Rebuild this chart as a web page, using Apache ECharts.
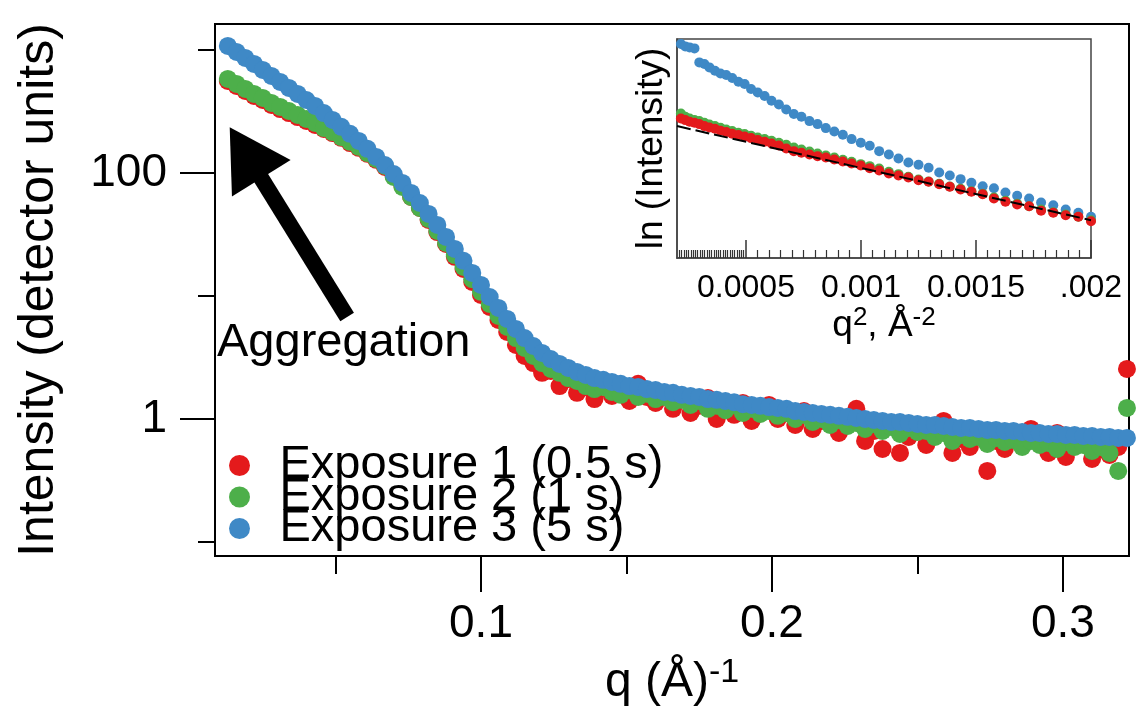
<!DOCTYPE html>
<html>
<head>
<meta charset="utf-8">
<script src="https://cdn.jsdelivr.net/npm/echarts@6.0.0/dist/echarts.min.js"></script>
<style>
html,body{margin:0;padding:0;background:#fff;}
#c{width:1136px;height:720px;}
</style>
</head>
<body>
<div id="c"></div>
<script>
// ---------- main chart data: q (1/Å) and intensity (detector units) ----------
const qValues = [
0.013,0.016,0.019,0.022,0.025,0.028,0.031,0.034,0.037,0.040,
0.043,0.046,0.049,0.052,0.055,0.058,0.061,0.064,0.067,0.070,
0.073,0.076,0.079,0.082,0.085,0.088,0.091,0.094,0.097,0.100,
0.103,0.106,0.109,0.112,0.115,0.118,0.121,0.124,0.127,0.130,
0.133,0.136,0.139,0.142,0.145,0.148,0.151,0.154,0.157,0.160,
0.163,0.166,0.169,0.172,0.175,0.178,0.181,0.184,0.187,0.190,
0.193,0.196,0.199,0.202,0.205,0.208,0.211,0.214,0.217,0.220,
0.223,0.226,0.229,0.232,0.235,0.238,0.241,0.244,0.247,0.250,
0.253,0.256,0.259,0.262,0.265,0.268,0.271,0.274,0.277,0.280,
0.283,0.286,0.289,0.292,0.295,0.298,0.301,0.304,0.307,0.310,
0.313,0.316,0.319,0.322];

const exposure1 = [ // red, 0.5 s
560,510,464,423,392,357,331,307,285,265,
246,228,211,193,175,160,143,128,112,
94.5,78.4,63.8,51.9,41.5,33.1,26.5,20.8,16.6,13.0,
10.2,8.14,6.38,5.10,4.00,3.25,2.85,2.37,2.46,1.85,
2.11,1.63,1.82,1.45,1.89,1.54,1.69,1.40,1.93,1.51,
1.35,1.57,1.21,1.45,1.12,1.28,1.48,1.00,1.21,1.08,
1.35,0.963,1.16,1.30,1.00,1.12,0.894,1.16,0.829,0.963,
1.06,0.770,0.963,1.21,0.663,0.799,0.570,0.928,0.529,0.714,
0.829,0.615,0.770,0.963,0.529,0.688,0.592,0.770,0.378,0.663,
0.570,0.714,0.603,0.829,0.663,0.529,0.770,0.491,0.615,0.688,
0.473,0.570,0.510,0.592,2.55];

const exposure2 = [ // green, 1 s
581,529,482,439,407,371,344,319,296,275,
255,232,215,196,179,163,145,130,114,
92.8,76.9,63.8,51.9,42.3,33.8,27.0,21.5,17.2,13.7,
10.8,8.61,6.88,5.60,4.55,3.78,3.25,2.85,2.55,2.37,
2.15,2.04,1.85,1.75,1.82,1.66,1.57,1.72,1.51,1.60,
1.45,1.51,1.37,1.43,1.30,1.40,1.21,1.28,1.18,1.30,
1.12,1.21,1.10,1.16,1.06,1.12,1.00,1.08,0.945,1.00,
0.894,0.981,0.877,0.928,0.829,0.911,0.799,0.861,0.755,0.845,
0.784,0.799,0.714,0.770,0.663,0.741,0.688,0.714,0.626,0.701,
0.650,0.675,0.592,0.663,0.615,0.638,0.570,0.650,0.592,0.615,
0.549,0.592,0.529,0.378,1.23];

const exposure3 = [ // blue, 5 s
1078,963,861,770,688,615,550,491,439,392,
351,307,270,237,208,182,157,135,116,98.1,
82.9,68.8,57.0,46.4,37.8,30.2,24.1,19.3,15.4,12.3,
9.81,7.99,6.50,5.39,4.55,3.92,3.44,3.07,2.80,2.60,
2.41,2.28,2.15,2.08,2.00,1.93,1.85,1.82,1.75,1.72,
1.66,1.63,1.57,1.54,1.51,1.45,1.43,1.40,1.37,1.32,
1.30,1.28,1.25,1.23,1.21,1.16,1.14,1.12,1.10,1.08,
1.06,1.04,1.02,1.00,0.981,0.963,0.945,0.945,0.928,0.911,
0.894,0.894,0.877,0.861,0.845,0.845,0.829,0.814,0.814,0.799,
0.799,0.784,0.770,0.770,0.755,0.755,0.741,0.741,0.727,0.727,
0.714,0.714,0.701,0.701];

const seriesNames = ['Exposure 1 (0.5 s)', 'Exposure 2 (1 s)', 'Exposure 3 (5 s)'];
const seriesColors = ['#e41a1c', '#4daf4a', '#3f89c6'];

// main axes ticks
const xMajorTicks = [0.1, 0.2, 0.3];
const xTickLabels = ['0.1', '0.2', '0.3'];
const xMinorTicks = [0.05, 0.15, 0.25];
const yMajorTicks = [1, 100];
const yTickLabels = ['1', '100'];
const yMinorTicks = [0.1, 10, 1000];

// ---------- inset data: q^2 (1/Å^2) and ln(Intensity) ----------
const insetQ2 = [
0.000199,0.000217,0.000236,0.000255,0.000276,0.000297,0.000319,0.000341,0.000365,0.000389,
0.000414,0.000440,0.000467,0.000494,0.000522,0.000551,0.000581,0.000611,0.000643,0.000675,
0.000708,0.000741,0.000776,0.000811,0.000847,0.000884,0.000921,0.000959,0.000999,0.001038,
0.001079,0.001121,0.001163,0.001206,0.001250,0.001294,0.001340,0.001386,0.001433,0.001480,
0.001529,0.001578,0.001628,0.001679,0.001731,0.001783,0.001836,0.001890,0.001945,0.002000];

const insetLnExp1 = [
6.414,6.395,6.382,6.369,6.361,6.350,6.334,6.323,6.313,6.297,
6.286,6.273,6.262,6.251,6.238,6.222,6.209,6.195,6.179,6.155,
6.134,6.121,6.107,6.094,6.083,6.067,6.051,6.035,6.019,5.998,
5.979,5.955,5.939,5.923,5.902,5.889,5.870,5.849,5.827,5.809,
5.790,5.755,5.729,5.707,5.694,5.657,5.641,5.622,5.609,5.574];

const insetLnExp2 = [
6.475,6.435,6.409,6.395,6.382,6.374,6.361,6.347,6.334,6.321,
6.307,6.294,6.281,6.270,6.257,6.243,6.230,6.217,6.201,6.185,
6.163,6.147,6.131,6.115,6.099,6.083,6.065,6.049,6.030,6.014,
5.995,5.969,5.950,5.929,5.907,5.891,5.873,5.851,5.833,5.814,
5.793,5.763,5.737,5.713,5.694,5.667,5.646,5.627,5.609,5.582];

const insetLnExp3 = [
7.009,6.990,6.971,6.963,6.955,6.843,6.830,6.803,6.777,6.755,
6.742,6.718,6.689,6.670,6.630,6.603,6.574,6.537,6.507,6.467,
6.430,6.409,6.374,6.350,6.318,6.291,6.265,6.230,6.201,6.177,
6.134,6.107,6.075,6.043,6.025,6.001,5.963,5.939,5.910,5.881,
5.854,5.838,5.803,5.777,5.755,5.723,5.702,5.667,5.641,5.609];

const guinierFitQ2 = [0.0002, 0.002];
const guinierFitLn = [6.334, 5.582];

const insetMajorTicks = [0.0005, 0.001, 0.0015, 0.002];
const insetTickLabels = ['0.0005', '0.001', '0.0015', '.002'];

// annotation arrow (data coordinates: tail -> head centre)
const arrowTail = [0.0540, 6.75];
const arrowHead = [0.01907, 146.1];
const annotationText = 'Aggregation';

// ---------- build ----------
const FONT = '"Liberation Sans", Arial, Helvetica, sans-serif';
const zip = (xs, ys) => xs.map((x, i) => [x, ys[i]]);
const insetMinorTicks = [];
for (let k = 21; k < 50; k++) insetMinorTicks.push(k / 100000);
for (let k = 11; k < 40; k++) if (k % 10 !== 0) insetMinorTicks.push(k * 5 / 100000);

const labelFrom = (ticks, labels) => (v) => {
  for (let i = 0; i < ticks.length; i++) if (Math.abs(ticks[i] - v) < 1e-9 * Math.max(1, Math.abs(v))) return labels[i];
  return '';
};

const X_MIN = 0.00859, X_MAX = 0.3227;
const Y_MIN = 0.0769, Y_MAX = 1626;

const chart = echarts.init(document.getElementById('c'), null, { renderer: 'canvas' });
const option = {
  animation: false,
  backgroundColor: '#fff',
  textStyle: { fontFamily: FONT, color: '#000' },
  grid: [
    { left: 215, top: 24, right: 7, bottom: 164, show: true, borderColor: '#000', borderWidth: 2, backgroundColor: 'transparent' },
    { left: 677, top: 39, right: 45, bottom: 462, show: true, borderColor: '#444', borderWidth: 1.5, backgroundColor: '#fff' }
  ],
  legend: {
    orient: 'vertical', left: 224, top: 437, itemWidth: 70, itemHeight: 21, itemGap: -15.5,
    icon: 'circle', selectedMode: false, data: seriesNames,
    textStyle: { fontSize: 47, color: '#000', fontFamily: FONT }
  },
  xAxis: [
    {
      gridIndex: 0, type: 'value', min: X_MIN, max: X_MAX, position: 'bottom',
      axisLine: { show: true, onZero: false, lineStyle: { color: '#000', width: 2 } },
      axisTick: { show: true, length: 36, customValues: xMajorTicks, lineStyle: { color: '#000', width: 2 } },
      axisLabel: { customValues: xMajorTicks, formatter: labelFrom(xMajorTicks, xTickLabels), fontSize: 46, color: '#000', margin: 45, fontFamily: FONT },
      splitLine: { show: false },
      name: '{b|q (Å)}{s|-1}', nameLocation: 'middle', nameGap: 100,
      nameTextStyle: { rich: { b: { fontSize: 48, color: '#000', fontFamily: FONT, lineHeight: 54 }, s: { fontSize: 34, color: '#000', fontFamily: FONT, verticalAlign: 'top' } } }
    },
    {
      gridIndex: 0, type: 'value', min: X_MIN, max: X_MAX, position: 'bottom',
      axisLine: { show: false, onZero: false },
      axisTick: { show: true, length: 18, customValues: xMinorTicks, lineStyle: { color: '#000', width: 2 } },
      axisLabel: { show: false }, splitLine: { show: false }
    },
    {
      gridIndex: 1, type: 'value', min: 0.0002, max: 0.002, position: 'bottom',
      axisLine: { show: true, onZero: false, lineStyle: { color: '#444', width: 1.5 } },
      axisTick: { show: true, inside: true, length: 18, customValues: insetMajorTicks, lineStyle: { color: '#333', width: 1.5 } },
      axisLabel: { customValues: insetMajorTicks, formatter: labelFrom(insetMajorTicks, insetTickLabels), fontSize: 32, color: '#000', margin: 14, fontFamily: FONT },
      splitLine: { show: false },
      name: '{b|q}{s|2}{b|, Å}{s|-2}', nameLocation: 'middle', nameGap: 44,
      nameTextStyle: { rich: { b: { fontSize: 37, color: '#000', fontFamily: FONT, lineHeight: 42 }, s: { fontSize: 26, color: '#000', fontFamily: FONT, verticalAlign: 'top' } } }
    },
    {
      gridIndex: 1, type: 'value', min: 0.0002, max: 0.002, position: 'bottom',
      axisLine: { show: false, onZero: false },
      axisTick: { show: true, inside: true, length: 8, customValues: insetMinorTicks, lineStyle: { color: '#333', width: 1.2 } },
      axisLabel: { show: false }, splitLine: { show: false }
    }
  ],
  yAxis: [
    {
      gridIndex: 0, type: 'log', logBase: 10, min: Y_MIN, max: Y_MAX, position: 'left',
      axisLine: { show: true, onZero: false, lineStyle: { color: '#000', width: 2 } },
      axisTick: { show: true, length: 35, customValues: yMajorTicks, lineStyle: { color: '#000', width: 2 } },
      axisLabel: { customValues: yMajorTicks, formatter: labelFrom(yMajorTicks, yTickLabels), fontSize: 46, color: '#000', margin: 48, fontFamily: FONT },
      splitLine: { show: false },
      name: 'Intensity (detector units)', nameLocation: 'middle', nameRotate: 90, nameGap: 151,
      nameTextStyle: { fontSize: 50, color: '#000', fontFamily: FONT }
    },
    {
      gridIndex: 0, type: 'log', logBase: 10, min: Y_MIN, max: Y_MAX, position: 'left',
      axisLine: { show: false, onZero: false },
      axisTick: { show: true, length: 17, customValues: yMinorTicks, lineStyle: { color: '#000', width: 2 } },
      axisLabel: { show: false }, splitLine: { show: false }
    },
    {
      gridIndex: 1, type: 'value', min: 5.28, max: 7.03, position: 'left',
      axisLine: { show: true, onZero: false, lineStyle: { color: '#444', width: 1.5 } },
      axisTick: { show: false }, axisLabel: { show: false }, splitLine: { show: false },
      name: 'ln (Intensity)', nameLocation: 'middle', nameRotate: 90, nameGap: 7,
      nameTextStyle: { fontSize: 37, color: '#000', fontFamily: FONT }
    }
  ],
  graphic: [
    { type: 'text', left: 217, top: 320, z: 10,
      style: { text: annotationText, font: '47px "Liberation Sans", Arial, sans-serif', fill: '#000' } }
  ],
  series: [
    { name: seriesNames[0], type: 'scatter', xAxisIndex: 0, yAxisIndex: 0, symbolSize: 18,
      itemStyle: { color: seriesColors[0], opacity: 1 }, data: zip(qValues, exposure1), z: 2 },
    { name: seriesNames[1], type: 'scatter', xAxisIndex: 0, yAxisIndex: 0, symbolSize: 18,
      itemStyle: { color: seriesColors[1], opacity: 1 }, data: zip(qValues, exposure2), z: 3 },
    { name: seriesNames[2], type: 'scatter', xAxisIndex: 0, yAxisIndex: 0, symbolSize: 18,
      itemStyle: { color: seriesColors[2], opacity: 1 }, data: zip(qValues, exposure3), z: 4,
      markLine: {
        silent: true, symbol: ['none', 'triangle'], symbolSize: [69, 60], label: { show: false },
        lineStyle: { color: '#000', width: 16, type: 'solid' },
        emphasis: { disabled: true },
        data: [[{ coord: arrowTail }, { coord: arrowHead }]]
      }
    },
    { name: seriesNames[2], type: 'scatter', xAxisIndex: 2, yAxisIndex: 2, symbolSize: 10,
      itemStyle: { color: seriesColors[2], opacity: 1 }, data: zip(insetQ2, insetLnExp3), z: 5 },
    { name: seriesNames[1], type: 'scatter', xAxisIndex: 2, yAxisIndex: 2, symbolSize: 10,
      itemStyle: { color: seriesColors[1], opacity: 1 }, data: zip(insetQ2, insetLnExp2), z: 6 },
    { name: seriesNames[0], type: 'scatter', xAxisIndex: 2, yAxisIndex: 2, symbolSize: 10,
      itemStyle: { color: seriesColors[0], opacity: 1 }, data: zip(insetQ2, insetLnExp1), z: 7 },
    { name: 'Guinier fit', type: 'line', xAxisIndex: 2, yAxisIndex: 2, showSymbol: false, symbol: 'none',
      lineStyle: { color: '#000', width: 2, type: [14, 5] }, data: zip(guinierFitQ2, guinierFitLn), z: 8 }
  ]
};
chart.setOption(option);
</script>
</body>
</html>
